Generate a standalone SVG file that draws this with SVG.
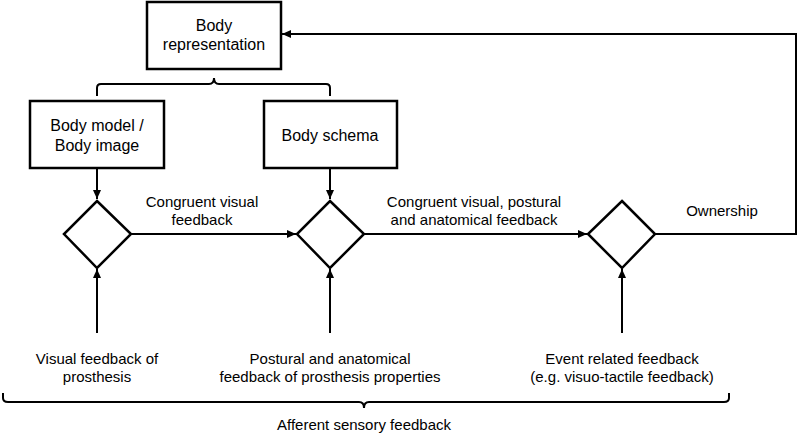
<svg xmlns="http://www.w3.org/2000/svg" width="797" height="435" viewBox="0 0 797 435">
<style>
text{font-family:"Liberation Sans",Arial,sans-serif;fill:#000;text-anchor:middle}
.n{font-size:16px}
.l{font-size:15px}
.box{fill:#fff;stroke:#000;stroke-width:2.5}
.c{fill:none;stroke:#000;stroke-width:2}
</style>
<defs><marker id="a" markerWidth="10" markerHeight="10" refX="9" refY="5" orient="auto" markerUnits="userSpaceOnUse"><path d="M0,1 L9,5 L0,9 Z" fill="#000"/></marker></defs>
<rect width="797" height="435" fill="#fff"/>
<g id="connectors">
<path class="c" d="M97,168 V199" marker-end="url(#a)"/>
<path class="c" d="M330,168 V199" marker-end="url(#a)"/>
<path class="c" d="M131,234 H296" marker-end="url(#a)"/>
<path class="c" d="M364,234 H587" marker-end="url(#a)"/>
<path class="c" d="M655,234 H796 V34 H282" marker-end="url(#a)"/>
<path class="c" d="M97,333 V269" marker-end="url(#a)"/>
<path class="c" d="M330,333 V269" marker-end="url(#a)"/>
<path class="c" d="M622,333 V269" marker-end="url(#a)"/>
<path class="c" d="M97,96 V88 Q97,84 101,84 H209 Q214,84 214,78 Q214,84 219,84 H326 Q330,84 330,88 V96"/>
<path class="c" d="M3,393 V398 Q3,402 8,402 H359 Q364,402 364,408 Q364,402 369,402 H724 Q729,402 729,398 V393"/>
<text class="l" x="202" y="207">Congruent visual</text>
<text class="l" x="202" y="225">feedback</text>
<text class="l" x="474" y="207">Congruent visual, postural</text>
<text class="l" x="474" y="225">and anatomical feedback</text>
<text class="l" x="722" y="216">Ownership</text>
</g>
<g id="body-representation"><rect class="box" x="147" y="2" width="134" height="67"/><text class="n" x="214" y="31">Body</text><text class="n" x="214" y="50">representation</text></g>
<g id="body-model"><rect class="box" x="30" y="101" width="134" height="67"/><text class="n" x="97" y="131">Body model /</text><text class="n" x="97" y="151">Body image</text></g>
<g id="body-schema"><rect class="box" x="264" y="101" width="133" height="67"/><text class="n" x="330" y="141">Body schema</text></g>
<g id="diamond1"><path class="box" d="M97,201 L131,234 L97,268 L64,234 Z"/></g>
<g id="diamond2"><path class="box" d="M330,201 L364,234 L330,268 L297,234 Z"/></g>
<g id="diamond3"><path class="box" d="M622,201 L655,234 L622,268 L588,234 Z"/></g>
<g id="visual-feedback"><text class="l" x="97" y="364">Visual feedback of</text><text class="l" x="97" y="382">prosthesis</text></g>
<g id="postural-feedback"><text class="l" x="330" y="364">Postural and anatomical</text><text class="l" x="330" y="382">feedback of prosthesis properties</text></g>
<g id="event-feedback"><text class="l" x="622" y="364">Event related feedback</text><text class="l" x="622" y="382">(e.g. visuo-tactile feedback)</text></g>
<g id="afferent"><text class="l" x="364" y="430">Afferent sensory feedback</text></g>
</svg>
